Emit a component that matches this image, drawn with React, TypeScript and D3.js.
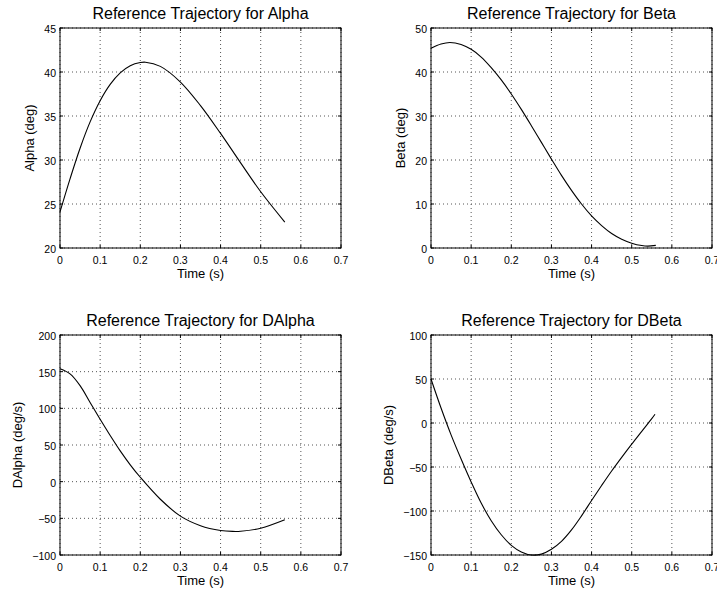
import React from "react";
import * as d3 from "d3";

const timeAlpha = [0, 0.025, 0.05, 0.075, 0.1, 0.125, 0.15, 0.175, 0.2, 0.213, 0.25, 0.3, 0.35, 0.4, 0.45, 0.5, 0.56];
const alphaVals = [24.1, 27.86, 31.34, 34.33, 36.74, 38.59, 39.9, 40.71, 41.07, 41.11, 40.64, 38.86, 36.18, 33.02, 29.67, 26.39, 22.95];

const timeBeta = [0, 0.025, 0.047, 0.075, 0.1, 0.125, 0.15, 0.175, 0.2, 0.225, 0.25, 0.275, 0.3, 0.325, 0.35, 0.375, 0.4, 0.425, 0.45, 0.475, 0.5, 0.525, 0.54, 0.56];
const betaVals = [45.4, 46.35, 46.7, 46.25, 45.15, 43.4, 41.0, 38.2, 35.0, 31.5, 27.8, 24.0, 20.2, 16.5, 13.1, 10.0, 7.3, 5.1, 3.3, 2.0, 1.1, 0.55, 0.42, 0.6];

const timeDAlpha = [0, 0.025, 0.05, 0.075, 0.1, 0.125, 0.15, 0.175, 0.2, 0.25, 0.3, 0.35, 0.4, 0.43, 0.45, 0.5, 0.56];
const dalphaVals = [154, 147, 131, 108, 85, 63, 42, 23, 6, -24, -47, -60, -66.5, -67.8, -67.6, -63.5, -52];

const timeDBeta = [0, 0.025, 0.05, 0.075, 0.1, 0.125, 0.15, 0.175, 0.2, 0.225, 0.25, 0.275, 0.3, 0.325, 0.35, 0.375, 0.4, 0.425, 0.45, 0.475, 0.5, 0.525, 0.55, 0.558];
const dbetaVals = [50, 17, -13.5, -41, -67, -91, -111, -127, -139, -146.5, -150, -149, -143.5, -134.5, -121.5, -105.5, -88, -71, -54.5, -39, -24, -9.5, 5, 10];

const xTicks = [0, 0.1, 0.2, 0.3, 0.4, 0.5, 0.6, 0.7];
const alphaTicks = [20, 25, 30, 35, 40, 45];
const betaTicks = [0, 10, 20, 30, 40, 50];
const dalphaTicks = [-100, -50, 0, 50, 100, 150, 200];
const dbetaTicks = [-150, -100, -50, 0, 50, 100];

const titles = ["Reference Trajectory for Alpha", "Reference Trajectory for Beta", "Reference Trajectory for DAlpha", "Reference Trajectory for DBeta"];
const yLabels = ["Alpha (deg)", "Beta (deg)", "DAlpha (deg/s)", "DBeta (deg/s)"];

const panels = [
  { t: timeAlpha, v: alphaVals, ticks: alphaTicks, title: titles[0], ylabel: yLabels[0], left: 60, top: 28 },
  { t: timeBeta, v: betaVals, ticks: betaTicks, title: titles[1], ylabel: yLabels[1], left: 431, top: 28 },
  { t: timeDAlpha, v: dalphaVals, ticks: dalphaTicks, title: titles[2], ylabel: yLabels[2], left: 60, top: 335 },
  { t: timeDBeta, v: dbetaVals, ticks: dbetaTicks, title: titles[3], ylabel: yLabels[3], left: 431, top: 335 },
];

const W = 281;
const H = 220;
const FONT = "'Liberation Sans', Arial, Helvetica, sans-serif";
const TICK_FS = 10.5;

function fmt(v: number) {
  return String(v).replace("-", "\u2212");
}

function textWidth(s: string) {
  let w = 0;
  for (const c of s) w += c === "\u2212" ? 0.584 : c === "." ? 0.278 : 0.556;
  return w * TICK_FS;
}

function Panel({ p }: { p: (typeof panels)[number] }) {
  const x = d3.scaleLinear().domain([0, 0.7]).range([0, W]);
  const y = d3.scaleLinear().domain([p.ticks[0], p.ticks[p.ticks.length - 1]]).range([H, 0]);
  const line = d3
    .line<number>()
    .x((_, i) => x(p.t[i]))
    .y((d) => y(d))
    .curve(d3.curveCatmullRom.alpha(0.5));
  const tickW = Math.max(...p.ticks.map((t) => textWidth(fmt(t))));
  const ylx = -4 - tickW - 14;
  return (
    <g transform={`translate(${p.left},${p.top})`}>
      {xTicks.map((t) => (
        <line key={"gx" + t} x1={x(t)} x2={x(t)} y1={0} y2={H} stroke="#555" strokeWidth={1} strokeDasharray="1,3" />
      ))}
      {p.ticks.map((t) => (
        <line key={"gy" + t} x1={0} x2={W} y1={y(t)} y2={y(t)} stroke="#555" strokeWidth={1} strokeDasharray="1,3" />
      ))}
      {xTicks.map((t) => (
        <g key={"tx" + t}>
          <line x1={x(t)} x2={x(t)} y1={H} y2={H - 3} stroke="#000" />
          <line x1={x(t)} x2={x(t)} y1={0} y2={3} stroke="#000" />
          <text x={x(t)} y={H + 16} textAnchor="middle" fontSize={TICK_FS} fontFamily={FONT} fill="#000">
            {fmt(t)}
          </text>
        </g>
      ))}
      {p.ticks.map((t) => (
        <g key={"ty" + t}>
          <line x1={0} x2={3} y1={y(t)} y2={y(t)} stroke="#000" />
          <line x1={W} x2={W - 3} y1={y(t)} y2={y(t)} stroke="#000" />
          <text x={-4} y={y(t) + 5} textAnchor="end" fontSize={TICK_FS} fontFamily={FONT} fill="#000">
            {fmt(t)}
          </text>
        </g>
      ))}
      <rect x={0} y={0} width={W} height={H} fill="none" stroke="#000" strokeWidth={1} />
      <path d={line(p.v) || ""} fill="none" stroke="#000" strokeWidth={1.1} />
      <text x={W / 2} y={H + 30} textAnchor="middle" fontSize={13} fontFamily={FONT} fill="#000">
        Time (s)
      </text>
      <text
        transform={`translate(${ylx},${H / 2}) rotate(-90)`}
        textAnchor="middle"
        dominantBaseline="middle"
        fontSize={13}
        fontFamily={FONT}
        fill="#000"
      >
        {p.ylabel}
      </text>
      <text x={W / 2} y={-9.5} textAnchor="middle" fontSize={16} fontFamily={FONT} fill="#000">
        {p.title}
      </text>
    </g>
  );
}

export default function App() {
  return (
    <svg width={717} height={591} style={{ position: "absolute", left: 0, top: 0, background: "#fff" }}>
      <rect width={717} height={591} fill="#fff" />
      {panels.map((p, i) => (
        <Panel key={i} p={p} />
      ))}
    </svg>
  );
}
